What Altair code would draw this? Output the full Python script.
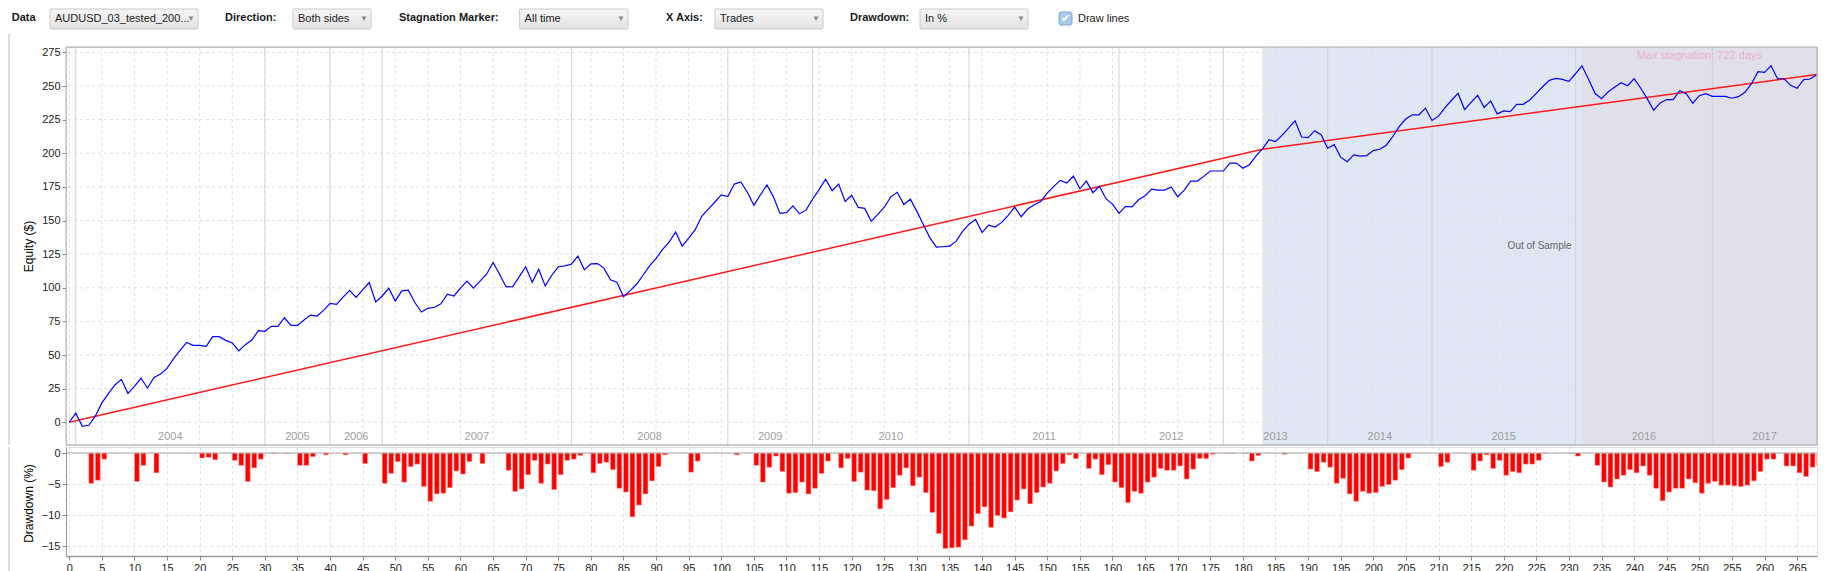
import altair as alt
import pandas as pd

# ---- data ----
equity = [
    0, 6.7, -3, -2.2, 4.5, 14.4, 21.3, 27.7, 31.9, 21.5,
    26.7, 32.7, 25.5, 33.4, 35.9, 40.1, 47.3, 53.5, 59.4, 57.2,
    57.2, 56.4, 63.6, 63.6, 60.9, 58.9, 53, 57.7, 61.1, 68.1,
    67.6, 71.3, 71.3, 77.7, 72, 72, 76, 79.7, 79, 83.2,
    88.4, 87.6, 93, 98, 92.8, 98.4, 103.9, 89.5, 93.9, 99.7,
    90.2, 97.7, 98.2, 89, 82, 84.7, 85.5, 88, 95.2, 93.9,
    99.7, 104.9, 99.7, 104.9, 110.1, 118.8, 110.1, 100.6, 100.9, 108.1,
    115.6, 104.1, 113.8, 101.4, 109.3, 115.6, 116.3, 117.5, 123.5, 113.3,
    117.8, 118, 114.6, 105.9, 104.1, 93.4, 97.7, 102.6, 109.3, 116.3,
    121.8, 128.5, 133.9, 141.5, 131, 136.9, 143.2, 153.1, 158.5, 163.6,
    169, 167.8, 177.1, 178.6, 171, 161.4, 169, 176.4, 167.6, 155.3,
    155.8, 160.9, 155, 157.7, 165.8, 173, 180.8, 172.2, 177.1, 164.1,
    168.8, 159.7, 159, 149.4, 154.5, 159.9, 167.6, 171, 161.9, 165.8,
    156.8, 146.9, 137.1, 130.2, 130.5, 130.9, 134.5, 141.9, 147.3, 150.8,
    141.1, 146.6, 145.1, 148.6, 153.8, 160, 152.8, 158.5, 161.7, 164.2,
    170.4, 175.4, 179.8, 177.9, 183.1, 173.6, 179.3, 170.7, 175.4, 166.2,
    162.2, 155.3, 160.5, 160.2, 165.4, 168.4, 173.4, 172.6, 172.6, 174.9,
    167.7, 172.6, 179.3, 179.3, 182.8, 186.8, 186.8, 186.8, 192.7, 192.7,
    188.8, 191.5, 197.9, 203.3, 210.1, 208.7, 213.3, 218.7, 224.1, 212.1,
    211.6, 216.8, 213.8, 203.7, 206.4, 197.1, 193.7, 198.8, 197.9, 198.3,
    202, 203, 206, 212.6, 220, 225.6, 228.6, 228.6, 233.5, 224.4,
    227.6, 234, 239.4, 244.5, 232.5, 237.9, 243.1, 234, 238.9, 229.3,
    231.5, 231, 236.4, 236.4, 239.6, 244.5, 249.6, 254.2, 255.7, 254.9,
    253.5, 259.1, 265, 255.2, 244.6, 240.6, 245.6, 249, 252.5, 250.2,
    255.4, 248.5, 240.6, 232, 237.4, 239.9, 239.9, 246.5, 244.3, 237.2,
    242.8, 244.3, 242.3, 242.3, 242.3, 240.9, 242.1, 245.3, 251.7, 260.6,
    260.1, 265, 255.4, 255.4, 250.5, 248.3, 254.7, 255.2, 258.4,
]
trades = list(range(len(equity)))

fit_trades = [0, 183, 268]
fit_equity = [0, 203, 258.5]

dd_trades = [
    3, 4, 5, 10, 11, 13, 20, 21, 22, 25, 26, 27, 28, 29, 31, 33, 35, 36, 37, 39,
    42, 45, 48, 49, 50, 51, 52, 53, 54, 55, 56, 57, 58, 59, 60, 61, 63, 67, 68, 69,
    70, 71, 72, 73, 74, 75, 76, 77, 78, 80, 81, 82, 83, 84, 85, 86, 87, 88, 89, 90,
    91, 95, 96, 102, 105, 106, 107, 108, 109, 110, 111, 112, 113, 114, 115, 116, 118, 119, 120, 121,
    122, 123, 124, 125, 126, 127, 128, 129, 130, 131, 132, 133, 134, 135, 136, 137, 138, 139, 140, 141,
    142, 143, 144, 145, 146, 147, 148, 149, 150, 151, 152, 153, 154, 156, 157, 158, 159, 160, 161, 162,
    163, 164, 165, 166, 167, 168, 169, 170, 171, 172, 173, 174, 175, 177, 178, 180, 181, 182, 186, 190,
    191, 192, 193, 194, 195, 196, 197, 198, 199, 200, 201, 202, 203, 204, 205, 210, 211, 215, 216, 217,
    218, 219, 220, 221, 222, 223, 224, 225, 226, 230, 231, 234, 235, 236, 237, 238, 239, 240, 241, 242,
    243, 244, 245, 246, 247, 248, 249, 250, 251, 252, 253, 254, 255, 256, 257, 258, 259, 260, 261, 263,
    264, 265, 266, 267, 268,
]
dd_values = [
    -4.9, -4.4, -1.0, -4.6, -2.0, -3.2, -0.8, -0.7, -1.1, -1.2, -2.0, -4.6, -2.4, -1.0, -0.1, -0.05, -2.0, -2.0, -0.6, -0.3,
    -0.3, -1.7, -4.9, -3.3, -1.4, -4.7, -2.2, -1.8, -5.4, -7.8, -6.6, -6.5, -5.6, -2.9, -3.4, -1.4, -1.7, -2.8, -6.2, -5.8,
    -3.5, -1.2, -4.9, -1.8, -5.9, -3.5, -1.2, -1.0, -0.4, -3.2, -1.7, -1.5, -2.7, -5.7, -6.3, -10.3, -8.4, -6.6, -4.5, -2.2,
    -0.3, -3.1, -1.3, -0.3, -2.0, -4.7, -2.3, -0.5, -3.0, -6.5, -6.4, -4.7, -6.6, -5.7, -3.3, -1.3, -2.4, -0.9, -4.6, -3.1,
    -6.0, -6.1, -9.0, -7.5, -5.6, -3.6, -2.4, -5.3, -3.9, -6.4, -9.6, -13.0, -15.4, -15.3, -15.2, -14.0, -11.8, -9.8, -8.7, -12.0,
    -10.1, -10.5, -9.5, -7.6, -5.8, -8.2, -6.4, -5.5, -4.9, -2.9, -1.7, -0.3, -0.9, -2.5, -1.0, -3.5, -1.9, -4.7, -5.6, -8.0,
    -6.2, -6.5, -4.7, -3.9, -2.5, -2.8, -2.8, -2.1, -4.2, -2.6, -0.9, -0.9, -0.2, -0.05, -0.05, -0.05, -1.3, -0.4, -0.2, -2.6,
    -3.0, -1.5, -2.3, -4.9, -4.1, -6.6, -7.8, -6.2, -6.5, -6.4, -5.4, -5.1, -4.4, -2.7, -0.8, -2.2, -1.5, -2.8, -1.3, -0.3,
    -2.5, -1.2, -3.6, -3.0, -3.2, -1.8, -1.8, -1.2, -0.05, -0.05, -0.5, -2.0, -4.7, -5.5, -4.2, -3.6, -2.7, -3.2, -2.1, -3.6,
    -5.7, -7.7, -6.3, -5.7, -5.7, -4.2, -4.8, -6.5, -4.9, -4.6, -5.2, -5.2, -5.3, -5.4, -5.2, -4.5, -3.0, -1.0, -1.0, -2.1,
    -2.1, -3.2, -3.8, -2.3, -2.0,
]

year_names = ["2004", "2005", "2006", "2007", "2008", "2009", "2010",
              "2011", "2012", "2013", "2014", "2015", "2016", "2017"]
year_starts = [1, 30, 40, 48, 77, 101, 114, 138, 161, 177, 193, 209, 231, 252]
last_trade = 268

oos_start = 183
stagnation_start = 232

x_ticks = list(range(0, 270, 5))
eq_ticks = list(range(0, 276, 25))
dd_ticks = [0, -5, -10, -15]

# ---- layout ----
FONT = "Liberation Sans"
W = 1751
H_EQ = 398
H_DD = 109
X_DOM = [-0.5, 268.05]
EQ_DOM = [-16.9, 279.0]
DD_DOM = [-16.61, 0.97]
OX, OY = 65, 46  # plot origin in page pixels of the original picture

xs = alt.Scale(domain=X_DOM, nice=False, zero=False)
ys = alt.Scale(domain=EQ_DOM, nice=False, zero=False)
ds = alt.Scale(domain=DD_DOM, nice=False, zero=False)

eq_axis = alt.Axis(
    values=eq_ticks, title="Equity ($)", titleFont=FONT, titleFontSize=12,
    titleFontWeight="normal", titleColor="#000", titleX=-38, titleY=H_EQ / 2,
    titleAngle=-90, titleAlign="center", titleBaseline="middle",
    labelFont=FONT, labelFontSize=11, labelColor="#222", labelPadding=2,
    tickSize=4, tickColor="#888", domain=False, grid=False,
)
dd_axis = alt.Axis(
    values=dd_ticks, title="Drawdown (%)", titleFont=FONT, titleFontSize=12,
    titleFontWeight="normal", titleColor="#000", titleX=-38, titleY=56,
    titleAngle=-90, titleAlign="center", titleBaseline="middle",
    labelFont=FONT, labelFontSize=11, labelColor="#222", labelPadding=2,
    tickSize=4, tickColor="#888", domainColor="#999",
    grid=True, gridColor="#e2e2e2", gridDash=[3, 3],
)
x_axis = alt.Axis(
    values=x_ticks, title=None, labelFont=FONT, labelFontSize=11,
    labelColor="#222", labelPadding=2, tickSize=4, tickColor="#888",
    domainColor="#999", domainWidth=1.5,
    grid=True, gridColor="#e2e2e2", gridDash=[3, 3],
)

one = pd.DataFrame({"a": [0]})


def px(x):
    return alt.value(x - OX)


def py(y):
    return alt.value(y - OY)


# ---- equity panel ----
shade_df = pd.DataFrame({"start": [oos_start, stagnation_start], "kind": ["oos", "stag"]})
shade = alt.Chart(shade_df).mark_rect().encode(
    x=alt.X("start:Q", scale=xs, axis=None),
    x2=alt.value(W),
    y=alt.value(0),
    y2=alt.value(H_EQ),
    color=alt.Color("kind:N", scale=alt.Scale(domain=["oos", "stag"],
                    range=["#dfe6f4", "#e1dfea"]), legend=None),
)

vgrid = alt.Chart(pd.DataFrame({"t": x_ticks})).mark_rule(
    color="#e0e0e0", strokeDash=[3, 3], strokeWidth=1
).encode(x=alt.X("t:Q", scale=xs, axis=None))

hgrid = alt.Chart(pd.DataFrame({"v": eq_ticks})).mark_rule(
    color="#e0e0e0", strokeDash=[3, 3], strokeWidth=1
).encode(y=alt.Y("v:Q", scale=ys, axis=eq_axis))

years_df = pd.DataFrame({"year": year_names, "start": year_starts,
                         "end": year_starts[1:] + [last_trade]})
year_rules = alt.Chart(years_df).mark_rule(color="#d3d3d3", strokeWidth=1).encode(
    x=alt.X("start:Q", scale=xs, axis=None)
)
year_text = alt.Chart(years_df).transform_calculate(
    mid="(datum.start + datum.end) / 2"
).mark_text(font=FONT, fontSize=11, color="#a0a0a0", baseline="middle").encode(
    x=alt.X("mid:Q", scale=xs, axis=None),
    y=alt.value(H_EQ - 8),
    text="year:N",
)

frame = alt.Chart(one).mark_rect(filled=False, stroke="#aaaaaa", strokeWidth=1).encode(
    x=alt.value(0), x2=alt.value(W), y=alt.value(0), y2=alt.value(H_EQ)
)

fit_line = alt.Chart(pd.DataFrame({"trade": fit_trades, "equity": fit_equity})).mark_line(
    color="#ff1a1a", strokeWidth=1.5, clip=True
).encode(
    x=alt.X("trade:Q", scale=xs, axis=None),
    y=alt.Y("equity:Q", scale=ys, axis=eq_axis),
)

eq_line = alt.Chart(pd.DataFrame({"trade": trades, "equity": equity})).mark_line(
    color="#0000ff", strokeWidth=1.2, clip=True
).encode(
    x=alt.X("trade:Q", scale=xs, axis=None),
    y=alt.Y("equity:Q", scale=ys, axis=eq_axis),
)

oos_text = alt.Chart(one).mark_text(
    text="Out of Sample", font=FONT, fontSize=10, color="#666666", baseline="middle"
).encode(
    x=alt.X("x:Q", scale=xs, axis=None),
    y=py(245),
).transform_calculate(x=f"({oos_start} + {last_trade}) / 2")

stag_text = alt.Chart(one).mark_text(
    text="Max stagnation: 722 days", font=FONT, fontSize=11, color="#e8b4c4", baseline="middle"
).encode(
    x=alt.X("x:Q", scale=xs, axis=None),
    y=py(55),
).transform_calculate(x=f"({stagnation_start} + {last_trade}) / 2")

# ---- tool bar above the chart ----
toolbar = []
edge = alt.Chart(one).mark_rule(color="#b8b8b8").encode(
    x=alt.value(8 - OX), y=py(33), y2=alt.value(H_EQ)
)
toolbar.append(edge)

labels = [("Data", 10.7), ("Direction:", 224), ("Stagnation Marker:", 398),
          ("X Axis:", 665), ("Drawdown:", 849)]
for txt, x0 in labels:
    toolbar.append(alt.Chart(one).mark_text(
        text=txt, font=FONT, fontSize=11, fontWeight="bold", color="#1a1a1a",
        align="left", baseline="middle",
    ).encode(x=px(x0), y=py(17)))

box_fill = alt.Gradient(
    gradient="linear", x1=0, x2=0, y1=0, y2=1,
    stops=[alt.GradientStop(color="#f6f6f6", offset=0),
           alt.GradientStop(color="#e3e3e3", offset=1)],
)
boxes = [(49, 197, "AUDUSD_03_tested_200..."), (292, 370, "Both sides"),
         (518.6, 627, "All time"), (714, 822, "Trades"), (919, 1027, "In %")]
for x0, x1, txt in boxes:
    toolbar.append(alt.Chart(one).mark_rect(
        fill=box_fill, stroke="#cacaca", strokeWidth=1, cornerRadius=1
    ).encode(x=px(x0), x2=px(x1), y=py(8), y2=py(28)))
    toolbar.append(alt.Chart(one).mark_text(
        text=txt, font=FONT, fontSize=11, color="#222", align="left", baseline="middle"
    ).encode(x=px(x0 + 5), y=py(17.5)))
    toolbar.append(alt.Chart(one).mark_text(
        text="\u25bc", font=FONT, fontSize=8, color="#8a8a8a", align="center", baseline="middle"
    ).encode(x=px(x1 - 7), y=py(18)))

toolbar.append(alt.Chart(one).mark_rect(
    fill="#a9cbec", stroke="#7ea6cf", strokeWidth=1, cornerRadius=2
).encode(x=px(1058), x2=px(1071), y=py(11), y2=py(24)))
toolbar.append(alt.Chart(one).mark_text(
    text="\u2714", font="DejaVu Sans", fontSize=11, color="#ffffff", align="center", baseline="middle"
).encode(x=px(1064.5), y=py(17.5)))
toolbar.append(alt.Chart(one).mark_text(
    text="Draw lines", font=FONT, fontSize=11, color="#222", align="left", baseline="middle"
).encode(x=px(1077), y=py(17.5)))

equity_chart = alt.layer(
    shade, vgrid, hgrid, year_rules, year_text, fit_line, eq_line,
    oos_text, stag_text, frame, *toolbar
).properties(width=W, height=H_EQ)

# ---- drawdown panel ----
dd_df = pd.DataFrame({"trade": dd_trades, "dd": dd_values})
bars = alt.Chart(dd_df).transform_calculate(
    end="datum.trade + 0.75", base="0"
).mark_rect(color="#ff0000", stroke="#ffb0b0", strokeWidth=0.5, clip=True).encode(
    x=alt.X("trade:Q", scale=xs, axis=x_axis),
    x2="end:Q",
    y=alt.Y("dd:Q", scale=ds, axis=dd_axis),
    y2="base:Q",
)
zero_rule = alt.Chart(pd.DataFrame({"v": [0]})).mark_rule(color="#a8a8a8").encode(
    y=alt.Y("v:Q", scale=ds, axis=dd_axis)
)
dd_edge = alt.Chart(one).mark_rule(color="#b8b8b8").encode(
    x=alt.value(8 - OX), y=alt.value(0), y2=alt.value(H_DD + 16)
)
drawdown_chart = alt.layer(bars, zero_rule, dd_edge).properties(width=W, height=H_DD)

chart = alt.vconcat(equity_chart, drawdown_chart, spacing=0).resolve_scale(
    x="independent", y="independent"
).properties(padding=0).configure_view(stroke=None).configure(font=FONT)

chart.save("out.html", embed_options={"renderer": "svg", "actions": False})
